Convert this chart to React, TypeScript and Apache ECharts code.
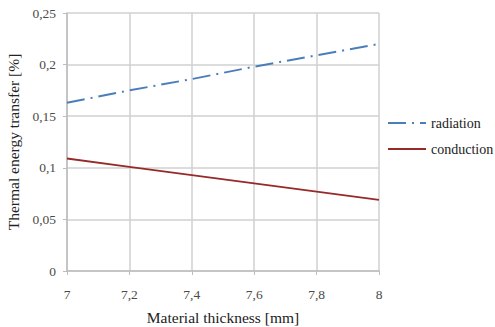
import React, { useEffect, useRef } from "react";
import * as echarts from "echarts";

const xValues = [7, 7.2, 7.4, 7.6, 7.8, 8];
const radiation = [0.163, 0.175, 0.186, 0.198, 0.209, 0.22];
const conduction = [0.109, 0.101, 0.093, 0.085, 0.077, 0.069];
const seriesNames = ["radiation", "conduction"];

const font = "'Liberation Serif', 'Times New Roman', serif";
const fmt = (v: number) => String(Math.round(v * 1000) / 1000).replace(".", ",");

export default function App() {
  const ref = useRef<HTMLDivElement>(null);
  useEffect(() => {
    if (!ref.current) return;
    const chart = echarts.init(ref.current, null, { renderer: "svg" });
    chart.setOption({
      animation: false,
      backgroundColor: "#ffffff",
      textStyle: { fontFamily: font },
      grid: { left: 67, right: 116, top: 13, bottom: 56, containLabel: false, outerBoundsMode: "none" },
      legend: {
        orient: "vertical",
        left: 387,
        top: 116,
        padding: 0,
        itemWidth: 38,
        itemHeight: 10,
        itemGap: 12,
        itemStyle: { opacity: 0, borderWidth: 0 },
        textStyle: { fontFamily: font, fontSize: 14, color: "#222" },
        data: seriesNames,
      },
      xAxis: {
        type: "value",
        min: 7,
        max: 8,
        interval: 0.2,
        name: "Material thickness [mm]",
        nameLocation: "middle",
        nameGap: 38,
        nameTextStyle: { fontFamily: font, fontSize: 15.5, color: "#222" },
        axisLine: { lineStyle: { color: "#bdbdbd", width: 1.5 } },
        axisTick: { show: true, length: 4, lineStyle: { color: "#bdbdbd" } },
        axisLabel: { formatter: fmt, fontFamily: font, fontSize: 13.5, color: "#4a4a4a", margin: 16 },
        splitLine: { show: true, lineStyle: { color: "#d0d0d0", width: 1.5 } },
      },
      yAxis: {
        type: "value",
        min: 0,
        max: 0.25,
        interval: 0.05,
        name: "Thermal energy transfer [%]",
        nameLocation: "middle",
        nameGap: 45,
        nameRotate: 90,
        nameTextStyle: { fontFamily: font, fontSize: 15.5, color: "#222" },
        axisLine: { show: true, lineStyle: { color: "#bdbdbd", width: 1.5 } },
        axisTick: { show: true, length: 4, lineStyle: { color: "#bdbdbd" } },
        axisLabel: { formatter: fmt, fontFamily: font, fontSize: 13.5, color: "#4a4a4a", margin: 11 },
        splitLine: { show: true, lineStyle: { color: "#d0d0d0", width: 1.5 } },
      },
      series: [
        {
          name: seriesNames[0],
          type: "line",
          symbol: "none",
          data: xValues.map((x, i) => [x, radiation[i]]),
          lineStyle: { color: "#4a7ebb", width: 2, type: [18, 6, 2, 6] },
          itemStyle: { color: "#4a7ebb" },
        },
        {
          name: seriesNames[1],
          type: "line",
          symbol: "none",
          data: xValues.map((x, i) => [x, conduction[i]]),
          lineStyle: { color: "#962a28", width: 1.8 },
          itemStyle: { color: "#962a28" },
        },
      ],
    });
    return () => chart.dispose();
  }, []);
  return <div ref={ref} style={{ width: 495, height: 327, position: "absolute", left: 0, top: 0 }} />;
}
